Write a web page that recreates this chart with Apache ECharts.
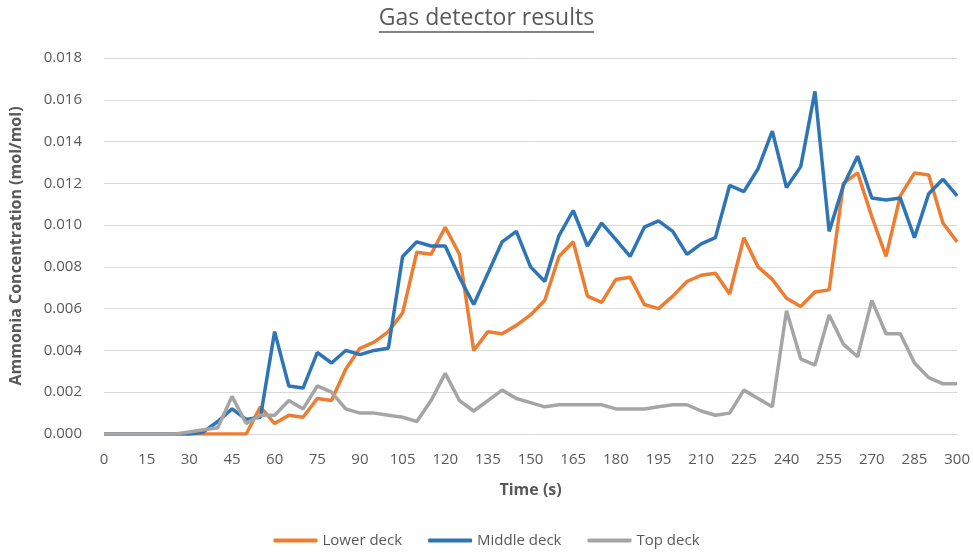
<!DOCTYPE html>
<html>
<head>
<meta charset="utf-8">
<script src="https://cdn.jsdelivr.net/npm/echarts@6/dist/echarts.min.js"></script>
<style>
  html, body { margin: 0; padding: 0; background: #fff; }
  #chart { width: 973px; height: 553px; }
</style>
</head>
<body>
<div id="chart"></div>
<script>
// time stamps (s), one reading every 5 s
var times = [];
for (var t = 0; t <= 300; t += 5) times.push(String(t));

var lowerDeck = [0, 0, 0, 0, 0, 0, 0, 0, 0, 0, 0, 0.0013, 0.0005, 0.0009, 0.0008,
  0.0017, 0.0016, 0.0031, 0.0041, 0.0044, 0.0049, 0.0058, 0.0087, 0.0086, 0.0099,
  0.0086, 0.0040, 0.0049, 0.0048, 0.0052, 0.0057, 0.0064, 0.0085, 0.0092, 0.0066,
  0.0063, 0.0074, 0.0075, 0.0062, 0.0060, 0.0066, 0.0073, 0.0076, 0.0077, 0.0067,
  0.0094, 0.0080, 0.0074, 0.0065, 0.0061, 0.0068, 0.0069, 0.0120, 0.0125, 0.0104,
  0.0085, 0.0114, 0.0125, 0.0124, 0.0101, 0.0092];

var middleDeck = [0, 0, 0, 0, 0, 0, 0, 0.0001, 0.0006, 0.0012, 0.0007, 0.0008, 0.0049, 0.0023, 0.0022,
  0.0039, 0.0034, 0.0040, 0.0038, 0.0040, 0.0041, 0.0085, 0.0092, 0.0090, 0.0090,
  0.0075, 0.0062, 0.0077, 0.0092, 0.0097, 0.0080, 0.0073, 0.0095, 0.0107, 0.0090,
  0.0101, 0.0093, 0.0085, 0.0099, 0.0102, 0.0097, 0.0086, 0.0091, 0.0094, 0.0119,
  0.0116, 0.0127, 0.0145, 0.0118, 0.0128, 0.0164, 0.0097, 0.0119, 0.0133, 0.0113,
  0.0112, 0.0113, 0.0094, 0.0115, 0.0122, 0.0114];

var topDeck = [0, 0, 0, 0, 0, 0, 0.0001, 0.0002, 0.0003, 0.0018, 0.0005, 0.0009, 0.0009, 0.0016, 0.0012,
  0.0023, 0.0020, 0.0012, 0.0010, 0.0010, 0.0009, 0.0008, 0.0006, 0.0016, 0.0029,
  0.0016, 0.0011, 0.0016, 0.0021, 0.0017, 0.0015, 0.0013, 0.0014, 0.0014, 0.0014,
  0.0014, 0.0012, 0.0012, 0.0012, 0.0013, 0.0014, 0.0014, 0.0011, 0.0009, 0.0010,
  0.0021, 0.0017, 0.0013, 0.0059, 0.0036, 0.0033, 0.0057, 0.0043, 0.0037, 0.0064,
  0.0048, 0.0048, 0.0034, 0.0027, 0.0024, 0.0024];

var font = '"Open Sans", "Liberation Sans", sans-serif';
var textGrey = '#595959';
var titleText = 'Gas detector results';
var titleSize = 23;

var chart = echarts.init(document.getElementById('chart'));

// underline width follows the rendered title text
var ctx = document.createElement('canvas').getContext('2d');
ctx.font = titleSize + 'px ' + font;
var titleW = ctx.measureText(titleText).width;
var midX = 973 / 2;

function line(name, data, color) {
  return {
    name: name,
    type: 'line',
    data: data,
    symbol: 'none',
    lineStyle: { width: 3.5, color: color },
    itemStyle: { color: color },
    animation: false
  };
}

chart.setOption({
  backgroundColor: '#fff',
  textStyle: { fontFamily: font },
  title: {
    text: titleText,
    left: 'center',
    top: 2,
    textStyle: { fontFamily: font, fontSize: titleSize, fontWeight: 'normal', color: textGrey }
  },
  graphic: [{
    type: 'line',
    shape: { x1: midX - titleW / 2, y1: 32, x2: midX + titleW / 2, y2: 32 },
    style: { stroke: textGrey, lineWidth: 1.5 }
  }],
  legend: {
    bottom: 0,
    left: 'center',
    itemWidth: 44,
    itemHeight: 4,
    itemGap: 26,
    icon: 'roundRect',
    textStyle: { fontFamily: font, fontSize: 15, color: textGrey },
    data: ['Lower deck', 'Middle deck', 'Top deck']
  },
  grid: { left: 104, right: 15, top: 58, bottom: 119 },
  xAxis: {
    type: 'category',
    data: times,
    boundaryGap: false,
    name: 'Time (s)',
    nameLocation: 'middle',
    nameGap: 48,
    nameTextStyle: { fontFamily: font, fontSize: 16, fontWeight: 'bold', color: textGrey },
    axisLine: { lineStyle: { color: '#D9D9D9', width: 1 } },
    axisTick: { show: false },
    axisLabel: { interval: 2, fontSize: 15, color: textGrey, margin: 18 },
    splitLine: { show: false }
  },
  yAxis: {
    type: 'value',
    min: 0,
    max: 0.018,
    interval: 0.002,
    name: 'Ammonia Concentration (mol/mol)',
    nameLocation: 'middle',
    nameGap: 80,
    nameTextStyle: { fontFamily: font, fontSize: 16, fontWeight: 'bold', color: textGrey },
    axisLine: { show: false },
    axisTick: { show: false },
    axisLabel: {
      fontSize: 15, color: textGrey, margin: 22,
      formatter: function (v) { return v.toFixed(3); }
    },
    splitLine: { lineStyle: { color: '#D9D9D9', width: 1 } }
  },
  series: [
    line('Lower deck', lowerDeck, '#ED7D31'),
    line('Middle deck', middleDeck, '#2E75B6'),
    line('Top deck', topDeck, '#A5A5A5')
  ]
});
</script>
</body>
</html>
